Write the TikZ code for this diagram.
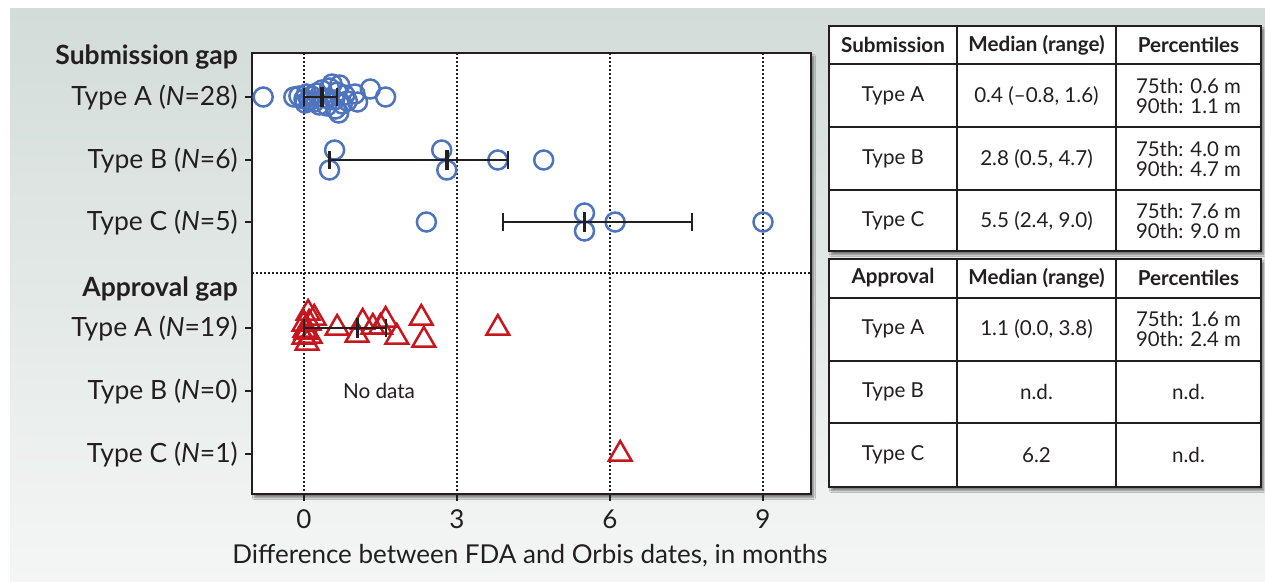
\documentclass[tikz,border=0pt]{standalone}
\usepackage{fontspec}
\setmainfont{Lato}
\usetikzlibrary{shapes.geometric,shadows.blur}
\definecolor{ink}{HTML}{231F20}
\definecolor{sblue}{HTML}{4F74BE}
\definecolor{ared}{HTML}{C8161E}
\definecolor{bgtop}{HTML}{D3DCD9}
\definecolor{bgbot}{HTML}{F4F6F5}
\tikzset{
  lbl/.style={anchor=east,text=ink,inner sep=0pt,font=\fontsize{26.5}{28}\selectfont},
  ttl/.style={anchor=east,text=ink,inner sep=0pt,font=\fontsize{26.5}{28}\selectfont\bfseries},
  subpt/.style={circle,draw=sblue,line width=2.5pt,minimum size=19pt,inner sep=0pt},
  apppt/.style={regular polygon,regular polygon sides=3,draw=ared,line width=2.5pt,minimum size=26pt,inner sep=0pt},
  cell/.style={text=ink,inner sep=0pt,align=center,font=\fontsize{20.6}{20}\selectfont},
  hcell/.style={text=ink,inner sep=0pt,align=center,font=\fontsize{20.6}{20}\selectfont\bfseries},
  pcell/.style={text=ink,inner sep=0pt,align=center,font=\fontsize{20.4}{19.5}\selectfont},
  ticklbl/.style={text=ink,font=\fontsize{26}{26}\selectfont},
  gridline/.style={ink,line width=1.3pt,dash pattern=on 2pt off 2pt},
  boxframe/.style={draw=ink,fill=white,line width=2.6pt,blur shadow={shadow xshift=2.5pt,shadow yshift=-3.5pt,shadow blur steps=6,shadow opacity=50}},
  tline/.style={ink,line width=2.6pt},
  barline/.style={ink,line width=2.5pt},
  barcap/.style={ink,line width=2.2pt},
  barmed/.style={ink,line width=3.6pt}
}
\newcommand{\ebar}[4]{%
  \draw[barline] ({304+51*#1},#4) -- ({304+51*#3},#4);
  \draw[barcap] ({304+51*#1},#4-9) -- ({304+51*#1},#4+9);
  \draw[barcap] ({304+51*#3},#4-9) -- ({304+51*#3},#4+9);
  \draw[barmed] ({304+51*#2},#4-10) -- ({304+51*#2},#4+10);
}
\begin{document}
\begin{tikzpicture}[x=1pt,y=-1pt]
\useasboundingbox (0,0) rectangle (1265,581);
\fill[white] (0,0) rectangle (1265,581);
\shade[top color=bgtop,bottom color=bgbot] (10,8) rectangle (1265,581);

% plot frame
\path[boxframe] (252,53) rectangle (811,494);
\foreach \v in {0,3,6,9}{
  \draw[gridline] ({304+51*\v},53) -- ({304+51*\v},494);
  \draw[ink,line width=2.2pt] ({304+51*\v},494) -- ({304+51*\v},501);
  \node[ticklbl] (xt\v) at ({304+51*\v},519) {\v};
}
\draw[gridline] (252,273) -- (811,273);
\foreach \yy in {97,160,222,328,391,454}
  \draw[ink,line width=2.2pt] (245,\yy) -- (252,\yy);
\draw[draw=ink,line width=2.6pt] (252,53) rectangle (811,494);

% labels
\node[ttl] (tsub) at (238,57) {Submission gap};
\node[lbl] (lsa) at (238,97) {Type A (\textit{N}=28)};
\node[lbl] (lsb) at (238,160) {Type B (\textit{N}=6)};
\node[lbl] (lsc) at (238,222) {Type C (\textit{N}=5)};
\node[ttl] (tapp) at (238,289) {Approval gap};
\node[lbl] (laa) at (238,328) {Type A (\textit{N}=19)};
\node[lbl] (lab) at (238,391) {Type B (\textit{N}=0)};
\node[lbl] (lac) at (238,454) {Type C (\textit{N}=1)};
\node[text=ink,font=\fontsize{20.7}{20}\selectfont] (nodata) at (379,391) {No data};
\node[text=ink,font=\fontsize{26}{26}\selectfont] (xlab) at (530,556) {Difference between FDA and Orbis dates, in months};

% submission points
\foreach \v/\d [count=\i] in {-0.8/0,-0.2/0,-0.1/-1,0.0/2,0.05/-3,0.1/4,0.15/-1,0.2/5,0.25/-4,0.3/8,0.35/-7,0.4/1,0.45/9,0.5/-9,0.55/-13,0.6/3,0.62/12,0.65/-5,0.68/16,0.7/-12,0.75/7,0.8/-2,0.85/4,1.0/-3,1.05/5,1.3/-8,1.6/0,0.02/6}
  \node[subpt] (sa\i) at ({304+51*\v},97+\d) {};
\foreach \v/\d [count=\i] in {0.6/-10,0.5/10,2.7/-10,2.8/10,3.8/0,4.7/0}
  \node[subpt] (sb\i) at ({304+51*\v},160+\d) {};
\foreach \v/\d [count=\i] in {2.4/0,5.5/-9,5.5/9,6.1/0,9.0/0}
  \node[subpt] (sc\i) at ({304+51*\v},222+\d) {};
% approval points
\foreach \v/\d [count=\i] in {0.08/-15,0.02/2,0.2/-10,0.0/9,0.06/15,0.65/0,1.04/7,1.15/-6,1.35/-1,1.5/-1,1.6/-8,1.82/9,2.3/-10,2.35/12,3.8/0,0.1/-5,0.0/-4,0.12/8,0.04/4}
  \node[apppt] (aa\i) at ({304+51*\v},328+\d) {};
\node[apppt] (ac1) at ({304+51*6.2},454) {};

% error bars
\ebar{0}{0.35}{0.65}{97}
\ebar{0.5}{2.8}{4.0}{160}
\ebar{3.9}{5.5}{7.6}{222}
\ebar{0}{1.05}{1.6}{328}

% table 1
\path[boxframe] (829,26) rectangle (1261,251);
\draw[tline] (829,64) -- (1261,64) (829,127) -- (1261,127) (829,190) -- (1261,190)
  (957,26) -- (957,251) (1116,26) -- (1116,251);
\draw[draw=ink,line width=2.8pt] (829,26) rectangle (1261,251);
\node[hcell] (h11) at (893,45) {Submission};
\node[hcell] (h12) at (1036.5,45) {Median (range)};
\node[hcell] (h13) at (1188.5,45) {Percentiles};
\node[cell] (c11) at (893,96) {Type A};
\node[cell] (c12) at (1036.5,96) {0.4 (–0.8, 1.6)};
\node[pcell] (c13) at (1188.5,96) {75th: 0.6 m\\90th: 1.1 m};
\node[cell] (c21) at (893,159) {Type B};
\node[cell] (c22) at (1036.5,159) {2.8 (0.5, 4.7)};
\node[pcell] (c23) at (1188.5,159) {75th: 4.0 m\\90th: 4.7 m};
\node[cell] (c31) at (893,221) {Type C};
\node[cell] (c32) at (1036.5,221) {5.5 (2.4, 9.0)};
\node[pcell] (c33) at (1188.5,221) {75th: 7.6 m\\90th: 9.0 m};

% table 2
\path[boxframe] (829,259) rectangle (1261,487);
\draw[tline] (829,298) -- (1261,298) (829,361) -- (1261,361) (829,423) -- (1261,423)
  (957,259) -- (957,487) (1116,259) -- (1116,487);
\draw[draw=ink,line width=2.8pt] (829,259) rectangle (1261,487);
\node[hcell] (h21) at (893,278) {Approval};
\node[hcell] (h22) at (1036.5,278) {Median (range)};
\node[hcell] (h23) at (1188.5,278) {Percentiles};
\node[cell] (d11) at (893,329) {Type A};
\node[cell] (d12) at (1036.5,329) {1.1 (0.0, 3.8)};
\node[pcell] (d13) at (1188.5,329) {75th: 1.6 m\\90th: 2.4 m};
\node[cell] (d21) at (893,392) {Type B};
\node[cell] (d22) at (1036.5,392) {n.d.};
\node[cell] (d23) at (1188.5,392) {n.d.};
\node[cell] (d31) at (893,455) {Type C};
\node[cell] (d32) at (1036.5,455) {6.2};
\node[cell] (d33) at (1188.5,455) {n.d.};
\end{tikzpicture}
\end{document}
